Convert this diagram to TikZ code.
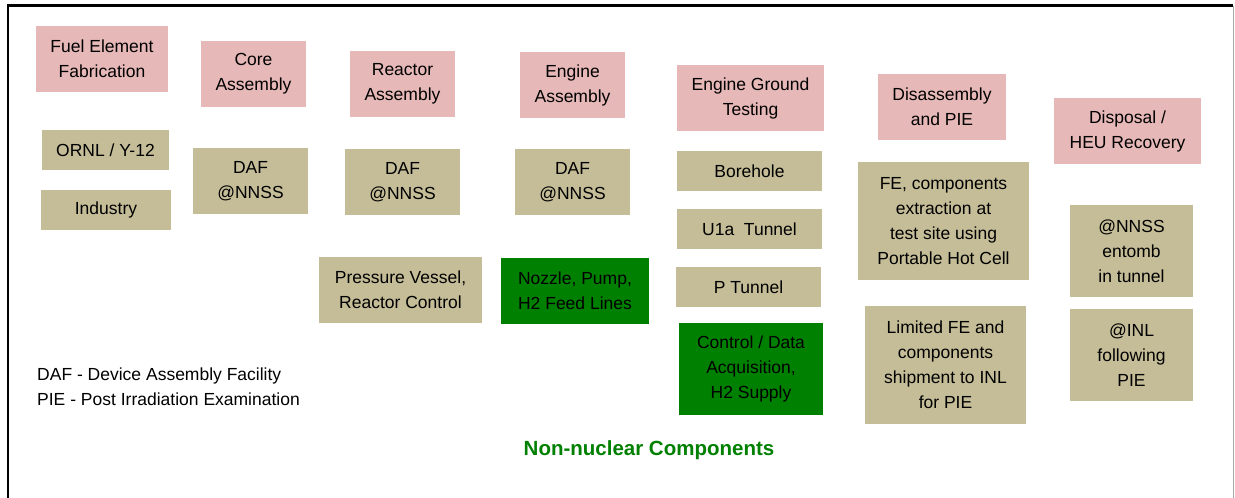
\documentclass[tikz,border=0pt]{standalone}
\usepackage{fontspec}
\setmainfont{Liberation Sans}
\definecolor{pinkbox}{HTML}{E6B8B7}
\definecolor{tanbox}{HTML}{C4BD97}
\definecolor{greenbox}{HTML}{008000}
\begin{document}
\begin{tikzpicture}[x=1pt,y=-1pt,
  box/.style={inner sep=0pt, outer sep=0pt, align=center,
    font=\fontsize{17.5}{25}\selectfont, text=black},
  stage/.style={box, fill=pinkbox},
  site/.style={box, fill=tanbox},
  nonnuc/.style={box, fill=greenbox},
  legend/.style={inner sep=0pt, anchor=base west, font=\fontsize{17.5}{25}\selectfont}]
\useasboundingbox (0,0) rectangle (1235,498);
% frame
\draw[line width=2.5pt, black] (8,498) -- (8,5.5) -- (1233,5.5);
\draw[line width=0.8pt, gray!70] (1233,5.5) -- (1233,498);
% stages
\node[stage, minimum width=132, minimum height=66] (fef) at (102,59) {Fuel Element\\Fabrication};
\node[stage, minimum width=105, minimum height=66] (core) at (253.5,74) {Core\\Assembly};
\node[stage, minimum width=105, minimum height=66] (reac) at (402.5,84) {Reactor\\Assembly};
\node[stage, minimum width=105, minimum height=66] (eng) at (572.5,85) {Engine\\Assembly};
\node[stage, minimum width=147, minimum height=66] (egt) at (750.5,98) {Engine Ground\\Testing};
\node[stage, minimum width=128, minimum height=66] (dis) at (942,107) {Disassembly\\and PIE};
\node[stage, minimum width=147, minimum height=66] (disp) at (1127.5,131) {Disposal /\\HEU Recovery};
% sites
\node[site, minimum width=127, minimum height=40] (ornl) at (105.5,150) {ORNL / Y-12};
\node[site, minimum width=130, minimum height=40] (ind) at (106,210) {Industry};
\node[site, minimum width=115, minimum height=66] (daf1) at (250.5,181) {DAF\\@NNSS};
\node[site, minimum width=115, minimum height=66] (daf2) at (402.5,182) {DAF\\@NNSS};
\node[site, minimum width=115, minimum height=66] (daf3) at (572.5,182) {DAF\\@NNSS};
\node[site, minimum width=145, minimum height=40] (bore) at (749.5,171) {Borehole};
\node[site, minimum width=145, minimum height=40] (u1a) at (749.5,229) {U1a~ Tunnel};
\node[site, minimum width=145, minimum height=40] (ptun) at (748.5,287) {P Tunnel};
\node[site, minimum width=163, minimum height=66] (pv) at (400.5,290) {Pressure Vessel,\\Reactor Control};
\node[site, minimum width=171, minimum height=118] (fe) at (943.5,221) {FE, components\\extraction at\\test site using\\Portable Hot Cell};
\node[site, minimum width=161, minimum height=118] (lim) at (945.5,365) {Limited FE and\\components\\shipment to INL\\for PIE};
\node[site, minimum width=123, minimum height=92] (nnss) at (1131.5,251) {@NNSS\\entomb\\in tunnel};
\node[site, minimum width=123, minimum height=92] (inl) at (1131.5,355) {@INL\\following\\PIE};
% non-nuclear
\node[nonnuc, minimum width=148, minimum height=66] (noz) at (575,291) {Nozzle, Pump,\\H2 Feed Lines};
\node[nonnuc, minimum width=144, minimum height=92] (ctrl) at (751,369) {Control / Data\\Acquisition,\\H2 Supply};
% legend
\node[legend] (leg1) at (37,380) {DAF - Device Assembly Facility};
\node[legend] (leg2) at (37,405) {PIE - Post Irradiation Examination};
\node[inner sep=0pt, anchor=base, text=greenbox, font=\fontsize{20.5}{25}\selectfont\bfseries] (nn) at (649,455) {Non-nuclear Components};
\end{tikzpicture}
\end{document}
